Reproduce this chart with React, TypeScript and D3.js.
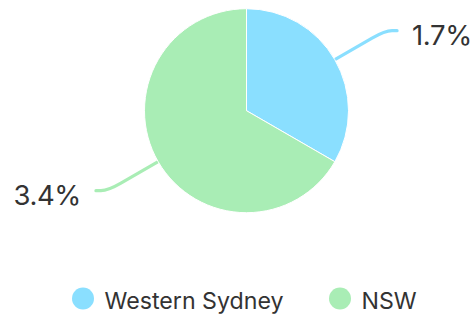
import React from "react";
import * as d3 from "d3";

const categories = ["Western Sydney", "NSW"];
const values = [1.7, 3.4];
const labels = ["1.7%", "3.4%"];
const colors = ["#8ADFFF", "#A9EDB5"];

const W = 476;
const H = 314;
const cx = 246.5;
const cy = 110.7;
const radius = 102;

const App: React.FC = () => {
  const pie = d3
    .pie<number>()
    .sort(null)
    .value((d) => d);
  const arcs = pie(values);
  const arc = d3.arc<d3.PieArcDatum<number>>().innerRadius(0).outerRadius(radius);

  // label leader: radial out from the edge, then bend into a short horizontal tail
  const leader = (a: d3.PieArcDatum<number>) => {
    const mid = (a.startAngle + a.endAngle) / 2;
    const dx = Math.sin(mid);
    const dy = -Math.cos(mid);
    const side = dx >= 0 ? 1 : -1;
    const p0 = [dx * radius, dy * radius];
    const p1 = [dx * 145, dy * 145];
    const bend = [dx * 160, dy * 160];
    const end = [bend[0] + side * 12, bend[1]];
    const path = `M${p0[0]},${p0[1]}L${p1[0]},${p1[1]}Q${bend[0]},${bend[1]} ${bend[0] + side * 7},${bend[1]}L${end[0]},${end[1]}`;
    return { path, end, side };
  };

  return (
    <svg width={W} height={H} style={{ position: "absolute", left: 0, top: 0 }}>
      <g transform={`translate(${cx},${cy})`}>
        {arcs.map((a, i) => {
          const l = leader(a);
          return (
            <g key={categories[i]}>
              <path
                d={l.path}
                fill="none"
                stroke={colors[i]}
                strokeWidth={3.2}
                strokeLinecap="round"
              />
              <text
                x={l.end[0] + l.side * 15}
                y={l.end[1] + 14}
                textAnchor={l.side > 0 ? "start" : "end"}
                fontFamily="Inter, sans-serif"
                fontSize={27.5}
                letterSpacing={-0.4}
                fill="#333"
              >
                {labels[i]}
              </text>
            </g>
          );
        })}
        {arcs.map((a, i) => (
          <path key={"s" + i} d={arc(a) || ""} fill={colors[i]} stroke="#fff" strokeWidth={1} />
        ))}
      </g>
      <g fontFamily="Inter, sans-serif" fontSize={23.2} fill="#333">
        {categories.map((c, i) => {
          const x = i === 0 ? 83 : 340;
          return (
            <g key={c} transform={`translate(${x},298.5)`}>
              <circle r={11} fill={colors[i]} />
              <text x={21.5} y={10.5}>
                {c}
              </text>
            </g>
          );
        })}
      </g>
    </svg>
  );
};

export default App;
